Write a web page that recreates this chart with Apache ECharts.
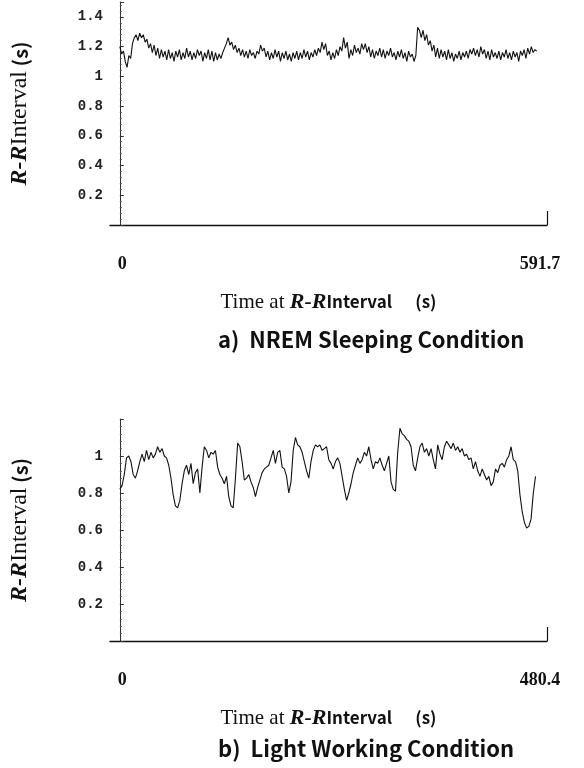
<!DOCTYPE html>
<html>
<head>
<meta charset="utf-8">
<script src="https://cdn.jsdelivr.net/npm/echarts@6/dist/echarts.min.js"></script>
<style>
  html, body { margin: 0; padding: 0; background: #fff; }
  #chart { width: 584px; height: 768px; }
</style>
</head>
<body>
<div id="chart"></div>
<script>
// a) NREM sleeping: R-R interval (s), one sample every 2.5 s of recording
const TOP_STEP = 2.5;
const TOP_END = 591.7;
const TOP_RR = [
  1.20, 1.15, 1.17, 1.10,  1.06, 1.14, 1.12, 1.22,  1.26, 1.28, 1.24, 1.29,
  1.26, 1.28, 1.23, 1.25,  1.19, 1.22, 1.16, 1.21,  1.14, 1.19, 1.12, 1.18,
  1.13, 1.17, 1.11, 1.18,  1.12, 1.16, 1.10, 1.17,  1.13, 1.18, 1.11, 1.16,
  1.12, 1.19, 1.13, 1.17,  1.11, 1.16, 1.12, 1.18,  1.14, 1.17, 1.10, 1.16,
  1.12, 1.18, 1.11, 1.17,  1.10, 1.16, 1.11, 1.15,  1.12, 1.16, 1.19, 1.22,
  1.26, 1.21, 1.23, 1.18,  1.21, 1.16, 1.19, 1.14,  1.18, 1.13, 1.17, 1.12,
  1.18, 1.14, 1.16, 1.12,  1.17, 1.15, 1.21, 1.17,  1.19, 1.13, 1.17, 1.11,
  1.16, 1.12, 1.18, 1.13,  1.17, 1.10, 1.16, 1.12,  1.17, 1.11, 1.15, 1.10,
  1.16, 1.12, 1.17, 1.11,  1.16, 1.12, 1.18, 1.13,  1.17, 1.11, 1.16, 1.13,
  1.18, 1.14, 1.19, 1.16,  1.23, 1.18, 1.22, 1.14,  1.17, 1.11, 1.16, 1.12,
  1.18, 1.14, 1.20, 1.17,  1.26, 1.19, 1.23, 1.12,  1.18, 1.14, 1.21, 1.16,
  1.19, 1.15, 1.22, 1.18,  1.22, 1.16, 1.20, 1.13,  1.18, 1.12, 1.17, 1.14,
  1.19, 1.13, 1.18, 1.12,  1.17, 1.14, 1.19, 1.13,  1.16, 1.11, 1.17, 1.13,
  1.18, 1.12, 1.16, 1.10,  1.17, 1.13, 1.15, 1.10,  1.14, 1.33, 1.31, 1.26,
  1.31, 1.24, 1.28, 1.21,  1.24, 1.17, 1.21, 1.13,  1.19, 1.12, 1.18, 1.13,
  1.17, 1.11, 1.18, 1.12,  1.16, 1.10, 1.15, 1.12,  1.17, 1.11, 1.16, 1.13,
  1.17, 1.12, 1.18, 1.15,  1.19, 1.14, 1.18, 1.13,  1.20, 1.15, 1.18, 1.12,
  1.17, 1.11, 1.18, 1.13,  1.16, 1.12, 1.17, 1.11,  1.16, 1.13, 1.18, 1.12,
  1.16, 1.11, 1.17, 1.13,  1.16, 1.10, 1.17, 1.14,  1.18, 1.12, 1.19, 1.15,
  1.20, 1.16, 1.18, 1.17
];

// b) light working
const BOT_STEP = 2.5;
const BOT_END = 480.4;
const BOT_RR = [
  0.82, 0.84, 0.90, 0.99,  1.00, 0.97, 0.90, 0.88,  0.92, 0.97, 1.01, 0.97,
  1.03, 0.98, 1.02, 0.99,  1.01, 1.05, 1.02, 1.04,  1.00, 0.99, 0.95, 0.88,
  0.79, 0.73, 0.72, 0.76,  0.85, 0.92, 0.95, 0.90,  0.96, 0.85, 0.91, 0.93,
  0.80, 0.94, 1.05, 1.03,  0.99, 1.02, 1.01, 1.03,  0.94, 0.90, 0.88, 0.85,
  0.89, 0.78, 0.73, 0.72,  0.88, 1.07, 1.05, 0.97,  0.87, 0.88, 0.90, 0.86,
  0.83, 0.78, 0.83, 0.87,  0.91, 0.93, 0.94, 0.95,  0.99, 1.03, 0.96, 1.02,
  1.03, 0.94, 0.93, 0.89,  0.80, 0.86, 1.03, 1.10,  1.06, 1.05, 1.02, 0.97,
  0.92, 0.88, 0.97, 1.03,  1.06, 1.05, 1.06, 1.03,  1.04, 1.05, 0.98, 0.96,
  0.93, 0.97, 0.99, 0.96,  0.89, 0.82, 0.76, 0.80,  0.85, 0.91, 0.95, 0.99,
  0.96, 0.98, 1.02, 1.00,  1.05, 0.98, 0.93, 0.97,  0.96, 0.99, 0.95, 0.92,
  0.96, 1.00, 0.86, 0.82,  0.81, 1.02, 1.15, 1.12,  1.11, 1.09, 1.08, 1.05,
  0.95, 0.92, 0.99, 1.05,  1.07, 1.02, 1.04, 1.00,  1.04, 0.98, 0.93, 1.06,
  1.01, 0.98, 1.05, 1.08,  1.06, 1.04, 1.07, 1.03,  1.05, 1.02, 1.04, 1.00,
  1.01, 0.98, 0.99, 0.93,  0.97, 0.92, 0.89, 0.93,  0.90, 0.87, 0.89, 0.84,
  0.86, 0.93, 0.91, 0.95,  0.96, 0.94, 0.98, 1.00,  1.05, 0.98, 0.97, 0.92,
  0.79, 0.70, 0.64, 0.61,  0.62, 0.66, 0.80, 0.89
];

const SERIF = 'Liberation Serif';
const MONO = 'Liberation Mono';
const GOTHIC = 'Noto Sans CJK JP';

const chart = echarts.init(document.getElementById('chart'), null, { renderer: 'canvas' });

function xAxisFor(gridIndex, end) {
  // axis line runs a little left of the y axis, as in the figure
  const lead = end * 10 / 434;
  return {
    gridIndex,
    type: 'value',
    min: -lead,
    max: end,
    axisLine: { onZero: false, lineStyle: { color: '#111', width: 1.4 } },
    axisTick: { customValues: [end], inside: true, length: 14, lineStyle: { color: '#111', width: 1.2 } },
    splitLine: { show: false },
    axisLabel: {
      customValues: [0, end],
      margin: 30,
      formatter: v => (v === 0 ? '{a|0}' : '{b|' + end + '}'),
      rich: {
        a: { fontFamily: SERIF, fontWeight: 'bold', fontSize: 18, color: '#111', padding: [0, 0, 0, 5] },
        b: { fontFamily: SERIF, fontWeight: 'bold', fontSize: 18, color: '#111', padding: [0, 14, 0, 0] }
      }
    },
    name: '{a|Time at }{b|R-R}{c|Interval}{d|      (s)}',
    nameLocation: 'middle',
    nameGap: 66,
    nameTextStyle: {
      rich: {
        a: { fontFamily: SERIF, fontSize: 21, color: '#111' },
        b: { fontFamily: SERIF, fontStyle: 'italic', fontWeight: 'bold', fontSize: 22, color: '#111' },
        c: { fontFamily: GOTHIC, fontWeight: 'bold', fontSize: 17, color: '#111' },
        d: { fontFamily: GOTHIC, fontWeight: 'bold', fontSize: 17, color: '#111' }
      }
    }
  };
}

function yAxisFor(gridIndex, max) {
  return {
    gridIndex,
    type: 'value',
    min: 0,
    max,
    interval: 0.2,
    axisLine: { show: true, onZero: true, lineStyle: { color: '#333', width: 1 } },
    axisTick: { show: true, inside: true, length: 4, lineStyle: { color: '#333' } },
    minorTick: { show: true, splitNumber: 5, length: 2, lineStyle: { color: '#555' } },
    splitLine: { show: false },
    axisLabel: {
      showMinLabel: false,
      showMaxLabel: false,
      margin: 7,
      fontFamily: MONO,
      fontWeight: 'bold',
      fontSize: 14,
      color: '#222'
    },
    name: '{b|R-R}{c|Interval}{d| (s)}',
    nameLocation: 'middle',
    nameGap: 78,
    nameTextStyle: {
      rich: {
        b: { fontFamily: SERIF, fontStyle: 'italic', fontWeight: 'bold', fontSize: 24, color: '#111' },
        c: { fontFamily: SERIF, fontSize: 24, color: '#111' },
        d: { fontFamily: GOTHIC, fontWeight: 'bold', fontSize: 20, color: '#111' }
      }
    }
  };
}

chart.setOption({
  animation: false,
  backgroundColor: '#fff',
  title: [
    {
      text: 'a)  NREM Sleeping Condition',
      left: 213, top: 324,
      textStyle: { fontFamily: GOTHIC, fontWeight: 'bold', fontSize: 22, color: '#111' }
    },
    {
      text: 'b)  Light Working Condition',
      left: 213, top: 733,
      textStyle: { fontFamily: GOTHIC, fontWeight: 'bold', fontSize: 22, color: '#111' }
    }
  ],
  grid: [
    { left: 103, top: 2, width: 444, height: 223 },
    { left: 103, top: 419, width: 444, height: 222 }
  ],
  xAxis: [xAxisFor(0, TOP_END), xAxisFor(1, BOT_END)],
  yAxis: [yAxisFor(0, 1.5), yAxisFor(1, 1.2)],
  series: [
    {
      type: 'line',
      xAxisIndex: 0, yAxisIndex: 0,
      data: TOP_RR.map((v, i) => [i * TOP_STEP, v]),
      showSymbol: false,
      lineStyle: { color: '#111', width: 1.1 }
    },
    {
      type: 'line',
      xAxisIndex: 1, yAxisIndex: 1,
      data: BOT_RR.map((v, i) => [i * BOT_STEP, v]),
      showSymbol: false,
      lineStyle: { color: '#111', width: 1.1 }
    }
  ]
});
</script>
</body>
</html>
